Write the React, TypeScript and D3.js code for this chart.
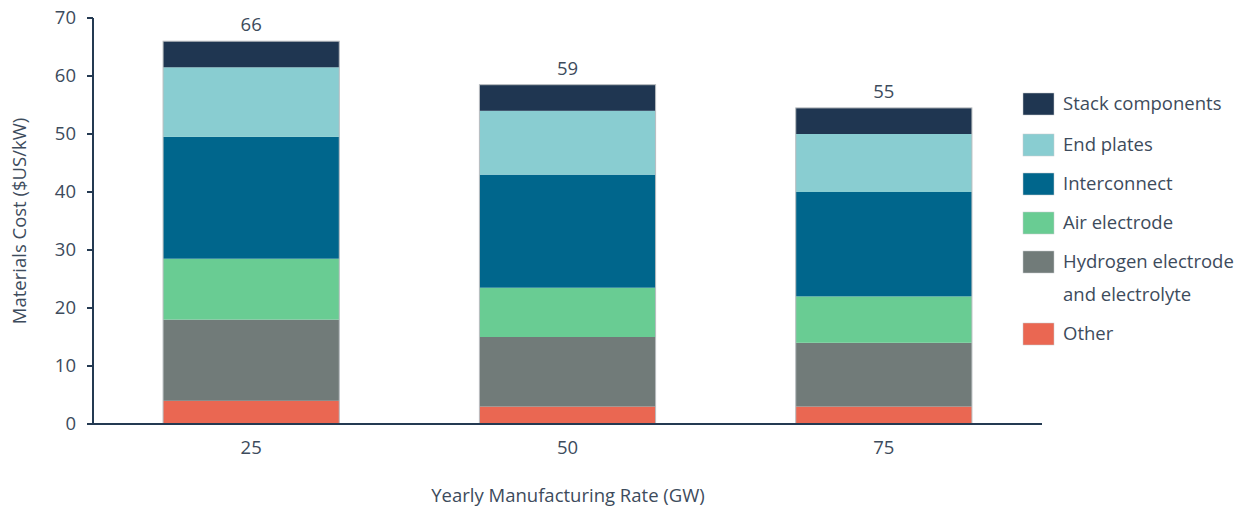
import React from "react";
import * as d3 from "d3";

const categories = ["25", "50", "75"];
const seriesNames = [
  "Other",
  "Hydrogen electrode and electrolyte",
  "Air electrode",
  "Interconnect",
  "End plates",
  "Stack components",
];
const other = [4, 3, 3];
const hydrogen = [14, 12, 11];
const airElectrode = [10.5, 8.5, 8];
const interconnect = [21, 19.5, 18];
const endPlates = [12, 11, 10];
const stackComponents = [4.5, 4.5, 4.5];
const yTicks = [0, 10, 20, 30, 40, 50, 60, 70];
const colors = ["#ea6752", "#717b79", "#69cc93", "#00668c", "#89cdd1", "#1f3651"];

const legendItems = [
  { name: "Stack components", lines: ["Stack components"], color: "#1f3651" },
  { name: "End plates", lines: ["End plates"], color: "#89cdd1" },
  { name: "Interconnect", lines: ["Interconnect"], color: "#00668c" },
  { name: "Air electrode", lines: ["Air electrode"], color: "#69cc93" },
  { name: "Hydrogen electrode and electrolyte", lines: ["Hydrogen electrode", "and electrolyte"], color: "#717b79" },
  { name: "Other", lines: ["Other"], color: "#ea6752" },
];

export default function App() {
  const W = 1244, H = 508;
  const left = 93, right = 1042, top = 18, bottom = 424;
  const font = "'Open Sans', 'Noto Sans', sans-serif";
  const textColor = "#3d4b5c";
  const axisColor = "#243a52";
  const fs = 18.5;

  const values = [other, hydrogen, airElectrode, interconnect, endPlates, stackComponents];
  const rows = categories.map((c, i) => {
    const r: any = { cat: c };
    seriesNames.forEach((s, j) => (r[s] = values[j][i]));
    return r;
  });
  const stacked = d3.stack().keys(seriesNames)(rows);

  const x = d3.scaleBand().domain(categories).range([left, right]).paddingInner(0.443).paddingOuter(0.2215);
  const y = d3.scaleLinear().domain([0, 70]).range([bottom, top]);

  const totals = categories.map((_, i) => values.reduce((a, v) => a + v[i], 0));

  const legendY = [104, 145, 184, 223, 262, 334];

  return (
    <svg width={W} height={H} style={{ position: "absolute", left: 0, top: 0, background: "#fff" }} fontFamily={font}>
      {stacked.map((layer, j) =>
        layer.map((d, i) => (
          <rect
            key={`${j}-${i}`}
            x={x(categories[i])}
            y={y(d[1])}
            width={x.bandwidth()}
            height={y(d[0]) - y(d[1])}
            fill={colors[j]}
          />
        ))
      )}
      {categories.map((c, i) => (
        <rect key={"o" + i} x={x(c)} y={y(totals[i])} width={x.bandwidth()} height={bottom - y(totals[i])}
          fill="none" stroke="#b8bcbf" strokeWidth={1} />
      ))}
      {categories.map((c, i) => (
        <text key={"t" + i} x={x(c)! + x.bandwidth() / 2} y={y(totals[i]) - 10} textAnchor="middle"
          fontSize={fs} fill={textColor}>
          {Math.round(totals[i] + 1e-9)}
        </text>
      ))}
      {/* axes */}
      <line x1={left} x2={left} y1={top} y2={bottom} stroke={axisColor} strokeWidth={2} />
      <line x1={left - 6} x2={right} y1={bottom} y2={bottom} stroke={axisColor} strokeWidth={2} />
      {yTicks.map((t) => (
        <g key={t}>
          <line x1={left - 6} x2={left} y1={y(t)} y2={y(t)} stroke={axisColor} strokeWidth={2} />
          <text x={left - 17} y={y(t)} dy="0.35em" textAnchor="end" fontSize={fs} fill={textColor}>{t}</text>
        </g>
      ))}
      {categories.map((c) => (
        <text key={"x" + c} x={x(c)! + x.bandwidth() / 2} y={454} textAnchor="middle" fontSize={fs} fill={textColor}>{c}</text>
      ))}
      <text x={568} y={502} textAnchor="middle" fontSize={fs} fill={textColor}>Yearly Manufacturing Rate (GW)</text>
      <text transform={`translate(26, ${(top + bottom) / 2}) rotate(-90)`} textAnchor="middle" fontSize={fs} fill={textColor}>
        Materials Cost ($US/kW)
      </text>
      {legendItems.map((it, k) => (
        <g key={it.name}>
          <rect x={1023} y={legendY[k] - 11} width={31} height={22} fill={it.color} stroke="#c8cccf" strokeWidth={0.5} />
          {it.lines.map((ln, li) => (
            <text key={li} x={1063} y={legendY[k] + li * 33} dy="0.35em" fontSize={fs} fill={textColor}>{ln}</text>
          ))}
        </g>
      ))}
    </svg>
  );
}
